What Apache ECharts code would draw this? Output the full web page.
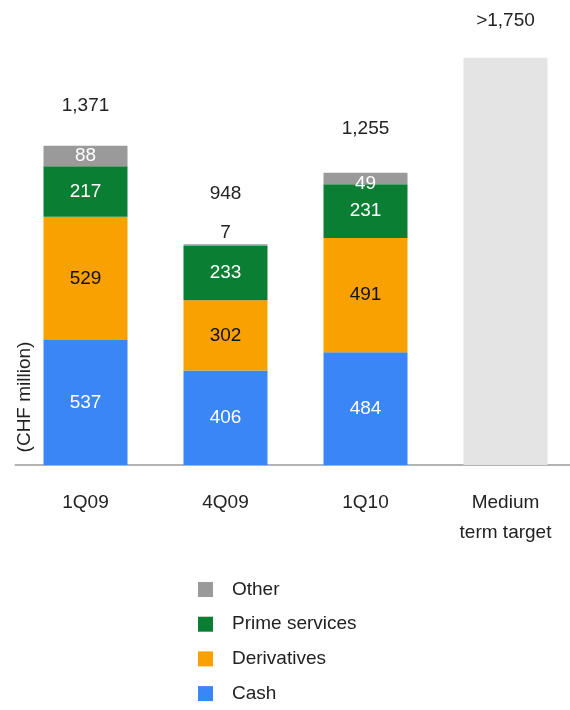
<!DOCTYPE html>
<html><head><meta charset="utf-8">
<script src="https://cdn.jsdelivr.net/npm/echarts@6/dist/echarts.min.js"></script>
<style>html,body{margin:0;padding:0;background:#fff}#c{width:570px;height:710px}</style>
</head><body><div id="c"></div>
<script>
const categories = ['1Q09', '4Q09', '1Q10', 'Medium\nterm target'];
const cash = [537, 406, 484, null];
const derivatives = [529, 302, 491, null];
const primeServices = [217, 233, 231, null];
const other = [88, 7, 49, null];
const totals = [1371, 948, 1255, null];
const totalLabels = ['1,371', '948', '1,255', ''];
const target = [null, null, null, 1750];
const targetLabel = '>1,750';
const legendOrder = ['Other', 'Prime services', 'Derivatives', 'Cash'];

const FONT = "'Liberation Sans', Arial, sans-serif";
const totalGaps = [31, 41, 35, 0];

const chart = echarts.init(document.getElementById('c'), null, {renderer: 'canvas'});

function segLabel(color) {
  return {show: true, position: 'inside', color: color, fontSize: 19, fontFamily: FONT,
    formatter: p => (p.value == null ? '' : String(p.value))};
}

chart.setOption({
  animation: false,
  backgroundColor: '#fff',
  grid: {left: 15.5, width: 560, top: 46, bottom: 245, outerBoundsMode: 'none', containLabel: false},
  xAxis: {
    type: 'category', data: categories,
    axisLine: {show: true, lineStyle: {color: '#b3b3b3', width: 2}},
    axisTick: {show: false},
    axisLabel: {color: '#222', fontSize: 19, fontFamily: FONT, lineHeight: 30, margin: 23, interval: 0}
  },
  yAxis: {type: 'value', min: 0, max: 1800, show: false, splitLine: {show: false}},
  legend: {
    data: legendOrder, orient: 'vertical', left: 198, top: 579.5, padding: 0,
    itemWidth: 15, itemHeight: 15, itemGap: 14.7, icon: 'rect',
    textStyle: {color: '#222', fontSize: 19, fontFamily: FONT, lineHeight: 20, padding: [0, 0, 0, 14]}
  },
  graphic: [{
    type: 'text', x: 25, y: 397, rotation: Math.PI / 2,
    style: {text: '(CHF million)', fill: '#222', font: "19px 'Liberation Sans', Arial, sans-serif",
      align: 'center', verticalAlign: 'middle'}
  }],
  series: [
    {name: 'Cash', type: 'bar', stack: 's', barWidth: 84, data: cash,
      itemStyle: {color: '#3b86f6'}, label: segLabel('#fff')},
    {name: 'Derivatives', type: 'bar', stack: 's', barWidth: 84, data: derivatives,
      itemStyle: {color: '#f8a100'}, label: segLabel('#111')},
    {name: 'Prime services', type: 'bar', stack: 's', barWidth: 84, data: primeServices,
      itemStyle: {color: '#0a7f33'}, label: segLabel('#fff')},
    {name: 'Other', type: 'bar', stack: 's', barWidth: 84,
      data: other.map(v => v != null && v < 20
        ? {value: v, label: {position: 'top', distance: 2, color: '#222'}}
        : (v != null && v < 60 ? {value: v, label: {offset: [0, 5]}} : v)),
      itemStyle: {color: '#9a9a9a'}, label: segLabel('#fff')},
    {name: 'Target', type: 'bar', stack: 's', barWidth: 84, data: target,
      itemStyle: {color: '#e4e4e4'},
      label: {show: true, position: 'top', distance: 27, color: '#222', fontSize: 19, fontFamily: FONT,
        formatter: () => targetLabel}},
    {name: 'Total', type: 'scatter', symbolSize: 0, silent: true,
      itemStyle: {opacity: 1},
      data: totals.map((v, i) => ({value: v, label: {distance: totalGaps[i]}})),
      label: {show: true, position: 'top', color: '#222', opacity: 1, fontSize: 19, fontFamily: FONT,
        formatter: p => totalLabels[p.dataIndex]}}
  ]
});
</script></body></html>
